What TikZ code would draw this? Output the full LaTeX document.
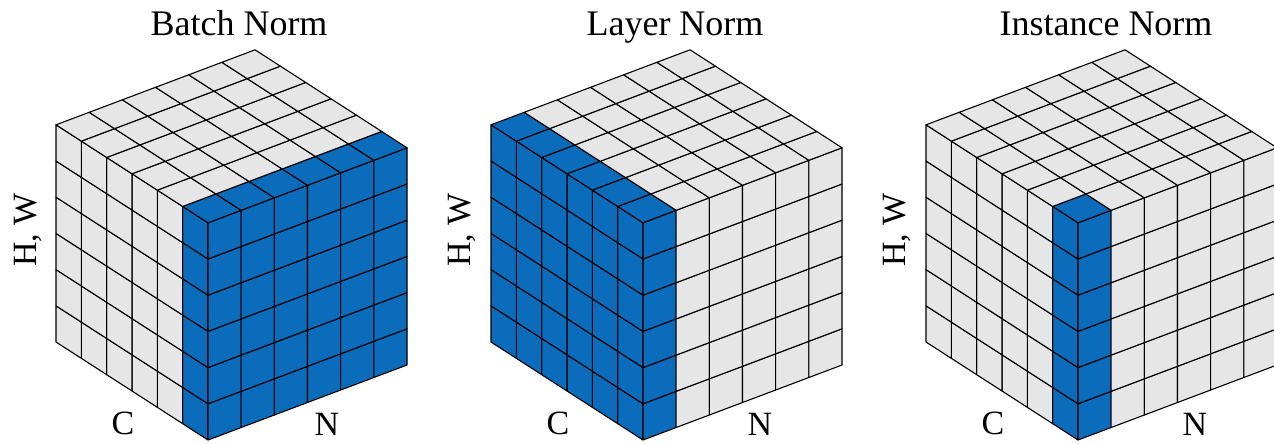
\documentclass[tikz,border=0pt]{standalone}
\usepackage{fontspec}
\setmainfont{Liberation Serif}
\definecolor{nblue}{RGB}{10,108,186}
\definecolor{ngrey}{RGB}{230,230,230}
\tikzset{
  cell/.style={draw=black, line width=1.1pt, line join=round},
  ttl/.style={font=\fontsize{36}{40}\selectfont, inner sep=0pt, anchor=base},
  lbl/.style={font=\fontsize{34}{40}\selectfont, inner sep=0pt, anchor=base},
  hwlbl/.style={font=\fontsize{34}{40}\selectfont, inner sep=0pt, rotate=90, anchor=center}
}
\newcommand\normcube[4]{%
\begin{scope}[shift={(#1pt,4pt)}, x={(33.17pt,12.5pt)}, y={(0pt,36.2pt)}, z={(-25.33pt,16.33pt)}]
\foreach \ci in {0,...,5}{\foreach \hi in {0,...,5}{%
  \pgfmathparse{#2}\ifdim\pgfmathresult pt>0.5pt\def\cellcol{nblue}\else\def\cellcol{ngrey}\fi
  \filldraw[cell, fill=\cellcol] (0,\hi,\ci) -- (0,\hi+1,\ci) -- (0,\hi+1,\ci+1) -- (0,\hi,\ci+1) -- cycle;}}
\foreach \ni in {0,...,5}{\foreach \hi in {0,...,5}{%
  \pgfmathparse{#3}\ifdim\pgfmathresult pt>0.5pt\def\cellcol{nblue}\else\def\cellcol{ngrey}\fi
  \filldraw[cell, fill=\cellcol] (\ni,\hi,0) -- (\ni,\hi+1,0) -- (\ni+1,\hi+1,0) -- (\ni+1,\hi,0) -- cycle;}}
\foreach \ni in {0,...,5}{\foreach \ci in {0,...,5}{%
  \pgfmathparse{#4}\ifdim\pgfmathresult pt>0.5pt\def\cellcol{nblue}\else\def\cellcol{ngrey}\fi
  \filldraw[cell, fill=\cellcol] (\ni,6,\ci) -- (\ni+1,6,\ci) -- (\ni+1,6,\ci+1) -- (\ni,6,\ci+1) -- cycle;}}
\end{scope}}
\begin{document}
\begin{tikzpicture}[x=1pt,y=1pt]
\useasboundingbox (0,0) rectangle (1274,444);
\clip (0,0) rectangle (1274,444);
\fill[white] (0,0) rectangle (1274,444);
% Batch Norm
\normcube{208}{\ci==0}{1}{\ci==0}
% Layer Norm
\normcube{643}{1}{\ni==0}{\ni==0}
% Instance Norm
\normcube{1078}{\ci==0}{\ni==0}{(\ni==0)*(\ci==0)}
% titles
\node[ttl] (t1) at (239,408) {Batch Norm};
\node[ttl] (t2) at (675,408) {Layer Norm};
\node[ttl] (t3) at (1106,408) {Instance Norm};
% axis labels
\node[hwlbl] (hw1) at (28,214) {H, W};
\node[hwlbl] (hw2) at (462,214) {H, W};
\node[hwlbl] (hw3) at (897,214) {H, W};
\node[lbl] (c1) at (123,9) {C};
\node[lbl] (c2) at (558,9) {C};
\node[lbl] (c3) at (993,9) {C};
\node[lbl] (n1) at (327,8) {N};
\node[lbl] (n2) at (760,8) {N};
\node[lbl] (n3) at (1195,8) {N};
\end{tikzpicture}
\end{document}
